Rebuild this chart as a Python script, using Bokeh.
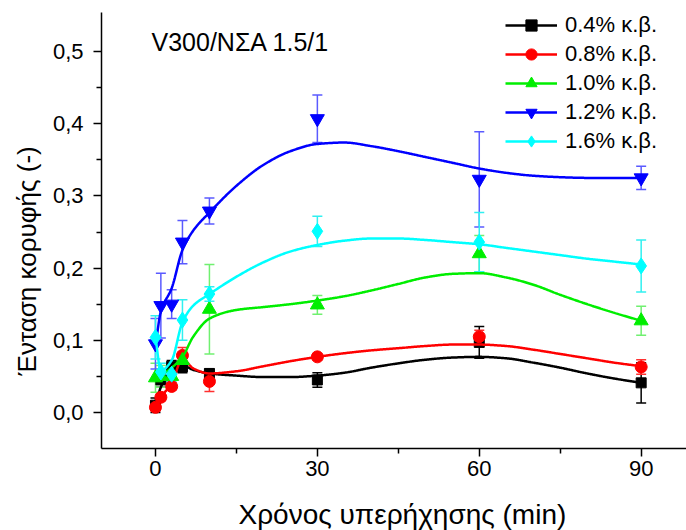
import numpy as np
from bokeh.plotting import figure
from bokeh.models import (ColumnDataSource, Whisker, TeeHead, Legend, LegendItem, Label, Title,
                          FixedTicker, CustomJSTickFormatter, Range1d, LinearAxis)
from bokeh.embed import file_html
from bokeh.resources import INLINE

# ---------------- data ----------------
times = [0, 1, 3, 5, 10, 30, 60, 90]

y_04 = [0.010, 0.045, 0.064, 0.063, 0.054, 0.045, 0.097, 0.041]
e_04 = [0.010, 0.010, 0.008, 0.008, 0.006, 0.010, 0.022, 0.028]
y_08 = [0.007, 0.021, 0.036, 0.079, 0.043, 0.077, 0.105, 0.063]
e_08 = [0.005, 0.005, 0.005, 0.011, 0.014, 0.004, 0.009, 0.010]
y_10 = [0.048, 0.050, 0.050, 0.072, 0.143, 0.149, 0.220, 0.127]
e_10 = [0.020, 0.015, 0.012, 0.010, 0.062, 0.013, 0.025, 0.020]
y_12 = [0.095, 0.148, 0.150, 0.236, 0.279, 0.407, 0.323, 0.325]
e_12 = [0.035, 0.045, 0.020, 0.030, 0.018, 0.033, 0.066, 0.016]
y_16 = [0.104, 0.056, 0.053, 0.128, 0.164, 0.251, 0.236, 0.203]
e_16 = [0.030, 0.012, 0.010, 0.028, 0.010, 0.021, 0.041, 0.036]

# smoothed curves (knots)
curve_t = [0, 1, 3, 5, 7, 10, 15, 20, 25, 30, 35, 40, 45, 50, 55, 60, 65, 70, 75, 80, 85, 90]
curve_04 = [0.010, 0.035, 0.058, 0.065, 0.059, 0.054, 0.051, 0.049, 0.049, 0.051, 0.055,
            0.062, 0.068, 0.073, 0.076, 0.077, 0.075, 0.069, 0.062, 0.054, 0.047, 0.041]
curve_08 = [0.007, 0.021, 0.040, 0.074, 0.061, 0.054, 0.057, 0.064, 0.071, 0.077, 0.082,
            0.086, 0.089, 0.092, 0.094, 0.094, 0.092, 0.087, 0.081, 0.075, 0.069, 0.064]
curve_10 = [0.049, 0.052, 0.062, 0.077, 0.105, 0.130, 0.142, 0.146, 0.150, 0.155, 0.161,
            0.169, 0.178, 0.187, 0.192, 0.193, 0.187, 0.177, 0.163, 0.150, 0.138, 0.127]
curve_12 = [0.092, 0.140, 0.172, 0.225, 0.252, 0.277, 0.314, 0.343, 0.362, 0.372, 0.374,
            0.369, 0.362, 0.354, 0.346, 0.338, 0.332, 0.328, 0.326, 0.325, 0.325, 0.325]
curve_16 = [0.104, 0.058, 0.072, 0.125, 0.148, 0.164, 0.188, 0.208, 0.223, 0.232, 0.238,
            0.241, 0.241, 0.239, 0.236, 0.233, 0.228, 0.223, 0.218, 0.213, 0.209, 0.205]

labels = ["0.4% κ.β.", "0.8% κ.β.", "1.0% κ.β.", "1.2% κ.β.", "1.6% κ.β."]
x_ticks = [0, 30, 60, 90]
x_minor = [15, 45, 75]
y_ticks = [0.0, 0.1, 0.2, 0.3, 0.4, 0.5]
y_minor = [0.05, 0.15, 0.25, 0.35, 0.45]

title_text = "V300/ΝΣΑ 1.5/1"
x_label = "Χρόνος υπερήχησης (min)"
y_label = "Ένταση κορυφής (-)"

FONT = "Liberation Sans"


def pchip(x, y, xs):
    x = np.asarray(x, float); y = np.asarray(y, float); xs = np.asarray(xs, float)
    h = np.diff(x); d = np.diff(y) / h
    n = len(x); m = np.zeros(n)
    for k in range(1, n - 1):
        if d[k - 1] * d[k] > 0:
            w1 = 2 * h[k] + h[k - 1]; w2 = h[k] + 2 * h[k - 1]
            m[k] = (w1 + w2) / (w1 / d[k - 1] + w2 / d[k])
    m[0] = d[0]; m[-1] = d[-1]
    idx = np.clip(np.searchsorted(x, xs) - 1, 0, n - 2)
    hh = h[idx]; s = (xs - x[idx]) / hh
    h00 = 2 * s**3 - 3 * s**2 + 1; h10 = s**3 - 2 * s**2 + s
    h01 = -2 * s**3 + 3 * s**2; h11 = s**3 - s**2
    return h00 * y[idx] + h10 * hh * m[idx] + h01 * y[idx + 1] + h11 * hh * m[idx + 1]


p = figure(width=686, height=530, output_backend="svg", toolbar_location=None, title=None,
           x_range=Range1d(-10, 98.4), y_range=Range1d(-0.05, 0.5542),
           min_border_left=101, min_border_right=0, min_border_top=12, min_border_bottom=82)
p.outline_line_color = None
p.grid.visible = False

series = [
    (y_04, e_04, curve_04, "#000000", "#000000", "square", 10),
    (y_08, e_08, curve_08, "#ff0000", "#ff3030", "circle", 12),
    (y_10, e_10, curve_10, "#00ee00", "#70f070", "triangle", 14),
    (y_12, e_12, curve_12, "#0000ff", "#5a5aff", "inverted_triangle", 14),
    (y_16, e_16, curve_16, "#00ffff", "#30f0f0", "diamond", 16),
]

xs = np.linspace(0, 90, 600)
items = []
for (ys, es, cv, col, ecol, mk, sz), lab in zip(series, labels):
    src = ColumnDataSource(dict(x=times, y=ys,
                                upper=[a + b for a, b in zip(ys, es)],
                                lower=[a - b for a, b in zip(ys, es)]))
    w = Whisker(source=src, base="x", upper="upper", lower="lower", dimension="height",
                line_color=ecol, line_width=1.5, level="underlay",
                upper_head=TeeHead(size=10, line_color=ecol, line_width=1.5),
                lower_head=TeeHead(size=10, line_color=ecol, line_width=1.5))
    p.add_layout(w)
    lr = p.line(xs, pchip(curve_t, cv, xs), line_color=col, line_width=2.5)
    sr = p.scatter("x", "y", source=src, marker=mk, size=sz, fill_color=col, line_color=col)
    items.append(LegendItem(label=lab, renderers=[lr, sr]))

legend = Legend(items=items, location=(404, 293.2), glyph_width=52, glyph_height=28,
                label_height=28, spacing=1, padding=0, margin=0, label_standoff=8,
                label_text_font=FONT, label_text_font_size="22px", label_text_color="black",
                border_line_color=None, background_fill_alpha=0)
p.add_layout(legend)

p.xaxis.ticker = FixedTicker(ticks=x_ticks, minor_ticks=x_minor)
p.yaxis.ticker = FixedTicker(ticks=y_ticks, minor_ticks=y_minor)
p.yaxis.formatter = CustomJSTickFormatter(code="return tick.toFixed(1).replace('.', ',');")
for ax in (p.xaxis[0], p.yaxis[0]):
    ax.axis_line_width = 1.5
    ax.axis_line_color = "black"
    ax.major_tick_line_width = 1.5
    ax.minor_tick_line_width = 1.5
    ax.major_tick_line_color = "black"
    ax.minor_tick_line_color = "black"
    ax.major_tick_out = 8
    ax.major_tick_in = 0
    ax.minor_tick_out = 5
    ax.minor_tick_in = 0
    ax.major_label_text_font = FONT
    ax.major_label_text_font_size = "22px"
    ax.major_label_text_color = "black"
p.xaxis.major_label_standoff = 4
p.yaxis.major_label_standoff = 10

# blank spacer panel below the x axis (white tick on white, empty label)
spacer = LinearAxis(ticker=FixedTicker(ticks=[45], minor_ticks=[]), axis_line_color=None,
                    major_tick_out=18, major_tick_in=0, minor_tick_out=0, minor_tick_in=0,
                    major_tick_line_color="white", major_tick_line_width=1,
                    major_label_overrides={45: ""}, major_label_text_font_size="1px",
                    major_label_standoff=0)
p.add_layout(spacer, "below")

p.add_layout(Label(x=50, y=406.5, x_units="screen", y_units="screen", text=title_text,
                   text_font=FONT, text_font_size="25px", text_color="black",
                   text_baseline="alphabetic", text_align="left"))

# axis titles placed in the side panels
p.add_layout(Title(text=x_label, align="left", offset=137, standoff=0,
                   vertical_align="bottom",
                   text_font=FONT, text_font_size="28px", text_font_style="normal",
                   text_color="black"), "below")
p.add_layout(Title(text=y_label, align="left", offset=73, standoff=16,
                   vertical_align="bottom",
                   text_font=FONT, text_font_size="26px", text_font_style="normal",
                   text_color="black"), "left")

open("out.html", "w").write(file_html(p, INLINE))
